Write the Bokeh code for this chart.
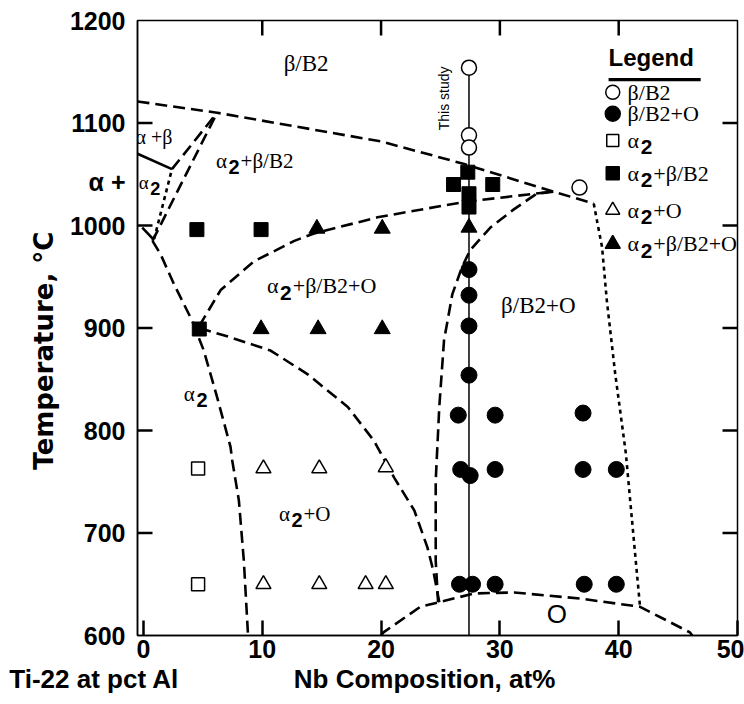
import math
from bokeh.plotting import figure
from bokeh.models import Range1d, FixedTicker, Label, LinearAxis
from bokeh.embed import file_html
from bokeh.resources import INLINE

# ---------------- data ----------------
x_ticks = [0, 10, 20, 30, 40, 50]
y_ticks = [600, 700, 800, 900, 1000, 1100, 1200]

study_x = [27.4, 27.4]
study_y = [600, 1154]

beta_x = [27.4, 27.4, 27.4, 36.7]
beta_y = [1154, 1088, 1076, 1037]

betaO_x = [27.4, 27.4, 27.4, 27.4, 26.5, 29.6, 37.0, 26.7, 27.5, 29.6, 37.0, 39.8,
           26.6, 27.7, 29.6, 37.1, 39.8]
betaO_y = [957, 932, 902, 854, 815, 815, 817, 762, 756, 762, 762, 762,
           650, 650, 650, 650, 650]

a2_x = [4.6, 4.6]
a2_y = [763, 650]

a2beta_x = [4.5, 9.9, 4.7, 27.3, 26.1, 29.4, 27.4, 27.4]
a2beta_y = [996, 996, 899, 1052, 1040, 1040, 1031, 1018]

a2O_x = [10.1, 14.8, 20.4, 10.1, 14.8, 18.7, 20.4]
a2O_y = [763, 763, 764, 650, 650, 650, 650]

a2betaO_x = [14.6, 20.1, 27.4, 9.9, 14.7, 20.1]
a2betaO_y = [997, 997, 998, 899, 899, 899]

# phase boundaries
transus_x = [-0.5, 6.2, 20.0, 27.0, 34.5, 37.9]
transus_y = [1121, 1110, 1082, 1060, 1033, 1021.5]

upperO_x = [4.7, 6.5, 9.3, 12.7, 14.3, 19.7, 27.0, 32.9, 34.5]
upperO_y = [902, 937, 965, 985, 992, 1008, 1023, 1031, 1033]

a2Ob_x = [4.7, 7.3, 10.7, 13.8, 17.2, 19.4, 21.1, 22.8, 23.9, 24.4, 24.9]
a2Ob_y = [900, 891, 878, 855, 823, 790, 754, 722, 686, 663, 632.5]

bOleft_x = [34.5, 33.1, 31.2, 29.2, 27.5, 26.8, 26.0, 25.3, 24.9, 24.6, 24.6, 24.8]
bOleft_y = [1033, 1031, 1016, 998, 976, 959, 933, 888, 823, 751, 673, 632.5]

bOright_x = [37.9, 38.2, 38.6, 39.0, 39.7, 40.6, 41.3, 41.8]
bOright_y = [1021.5, 1003, 979, 927, 856, 778, 690, 627.6]

a2b_x = [0.76, 1.44, 2.56, 4.10, 5.08, 6.21, 7.33, 7.47, 8.03, 8.45, 8.78, 8.80]
a2b_y = [985, 972, 943, 907, 878, 832, 784, 771, 732, 673, 605, 600]

leftC_x = [0.76, 6.2]
leftC_y = [985, 1110]
upperA_x = [2.4, 6.2]
upperA_y = [1055, 1110]
dotB_x = [0.9, 2.4]
dotB_y = [987, 1055]
solidD_x = [-0.5, 2.4]
solidD_y = [1070, 1055]
solidE_x = [-0.1, 0.8]
solidE_y = [998, 987]

dome_x = [20.0, 20.2, 23.3, 24.9, 27.8, 31.2, 36.8, 41.8, 46.0, 46.2]
dome_y = [600, 603, 628, 632.5, 641, 642, 636, 628, 603, 600]

X0, X1, Y0, Y1 = -0.5, 50, 600, 1200

# ---------------- figure ----------------
p = figure(width=744, height=704, x_range=Range1d(X0, X1), y_range=Range1d(Y0, Y1),
           output_backend="svg", toolbar_location=None,
           min_border_left=137, min_border_right=7, min_border_top=20, min_border_bottom=69)
p.background_fill_color = "white"
p.border_fill_color = "white"
p.xgrid.visible = False
p.ygrid.visible = False
p.outline_line_color = "black"
p.outline_line_width = 1.5

SANS = "Liberation Sans"
SERIF = "Liberation Serif"
FS = "25px"
NBSP = "\u00a0"

for ax in (p.xaxis[0], p.yaxis[0]):
    ax.major_tick_out = 0
    ax.minor_tick_line_color = None
    ax.major_tick_line_width = 2.5
    ax.axis_line_width = 1.5
    ax.major_label_text_font = SANS
    ax.major_label_text_font_style = "bold"
    ax.major_label_text_font_size = FS
    ax.major_label_text_color = "black"

# x axis: numbers only
p.xaxis[0].ticker = FixedTicker(ticks=x_ticks)
p.xaxis[0].major_tick_in = 15
p.xaxis[0].major_label_standoff = 4

# y axis: numbers plus the "α +" note that sits left of the frame
ALPHA_NOTE_Y = 1042
p.yaxis[0].ticker = FixedTicker(ticks=y_ticks + [ALPHA_NOTE_Y])
p.yaxis[0].major_label_overrides = {ALPHA_NOTE_Y: "α +"}
p.yaxis[0].major_tick_in = 0
p.yaxis[0].major_label_standoff = 12
p.yaxis[0].axis_label = "Temperature, °C" + NBSP * 5
p.yaxis[0].axis_label_standoff = 8
p.yaxis[0].axis_label_text_font = "DejaVu Sans"
p.yaxis[0].axis_label_text_font_style = "bold"
p.yaxis[0].axis_label_text_font_size = "26px"
p.yaxis[0].axis_label_text_color = "black"

# second row under the x axis: "Ti-22 at pct Al" and the axis title
TI_X, NB_X = -0.49, 23.66
title_axis = LinearAxis(ticker=FixedTicker(ticks=[TI_X, NB_X]),
                        major_label_overrides={TI_X: "Ti-22 at pct Al" + NBSP * 12,
                                               NB_X: "Nb Composition, at%"},
                        major_tick_in=0, major_tick_out=0, minor_tick_line_color=None,
                        axis_line_color=None, major_label_standoff=3,
                        major_label_text_font=SANS, major_label_text_font_style="bold",
                        major_label_text_font_size="26px", major_label_text_color="black")
p.add_layout(title_axis, "below")

# inward ticks on the left, top and right frame edges
TK = 15
top_t = x_ticks[1:-1]
side_t = y_ticks[1:-1]
dy = TK * (Y1 - Y0) / 615.0
dx = TK * (X1 - X0) / 600.0
p.segment(x0=top_t, y0=[Y1] * len(top_t), x1=top_t, y1=[Y1 - dy] * len(top_t),
          line_color="black", line_width=2.5)
p.segment(x0=[X1] * len(side_t), y0=side_t, x1=[X1 - dx] * len(side_t), y1=side_t,
          line_color="black", line_width=2.5)
p.segment(x0=[X0] * len(side_t), y0=side_t, x1=[X0 + dx] * len(side_t), y1=side_t,
          line_color="black", line_width=2.5)

# boundaries
DASH = "12 6"
DOT = "4 4"
for xs, ys, dash in [(transus_x, transus_y, DASH), (upperO_x, upperO_y, DASH),
                     (a2Ob_x, a2Ob_y, DASH), (bOleft_x, bOleft_y, DASH),
                     (bOright_x, bOright_y, DOT), (a2b_x, a2b_y, DASH),
                     (leftC_x, leftC_y, DASH), (upperA_x, upperA_y, DASH),
                     (dotB_x, dotB_y, DOT), (dome_x, dome_y, DASH)]:
    p.line(xs, ys, line_color="black", line_width=2.6, line_dash=dash)
for xs, ys in [(solidD_x, solidD_y), (solidE_x, solidE_y)]:
    p.line(xs, ys, line_color="black", line_width=2.6)

p.line(study_x, study_y, line_color="black", line_width=1.5)

# points
p.scatter(a2beta_x, a2beta_y, marker="square", size=14, fill_color="black", line_color="black")
p.scatter(beta_x, beta_y, marker="circle", size=15, fill_color="white", line_color="black", line_width=1.5)
p.scatter(betaO_x, betaO_y, marker="circle", size=16, fill_color="black", line_color="black")
p.scatter(a2_x, a2_y, marker="square", size=13, fill_color="white", line_color="black", line_width=1.5)
p.scatter(a2O_x, a2O_y, marker="triangle", size=15, fill_color="white", line_color="black", line_width=1.5)
p.scatter(a2betaO_x, a2betaO_y, marker="triangle", size=16, fill_color="black", line_color="black")

# ---------------- text ----------------
WID = {"α": 0.55, "β": 0.52, "/": 0.28, "B": 0.667, "2": 0.5, "+": 0.564, "O": 0.722, " ": 0.25}


def rich(x, y, s, size=20):
    off = 0.0
    for i, chunk in enumerate(s.split("_")):
        if i > 0:
            sub, chunk = chunk[0], chunk[1:]
            ss = 0.95 * size
            p.add_layout(Label(x=x, y=y, x_offset=off + 1, y_offset=-0.3 * size, text=sub,
                               text_font=SANS, text_font_style="bold", text_font_size=f"{ss:.1f}px",
                               text_baseline="middle", text_color="black"))
            off += 0.556 * ss + 2
        if chunk:
            p.add_layout(Label(x=x, y=y, x_offset=off, text=chunk, text_font=SERIF,
                               text_font_size=f"{size}px", text_baseline="middle", text_color="black"))
            off += sum(WID.get(c, 0.5) for c in chunk) * size


rich(11.8, 1158, "β/B2", 23)
rich(-0.67, 1086, "α +β", 20)
rich(-0.4, 1042, "α_2", 19)
rich(6.1, 1063, "α_2+β/B2", 21)
rich(10.4, 941, "α_2+β/B2+O", 22)
rich(30.1, 922, "β/B2+O", 23)
rich(3.4, 836, "α_2", 21)
rich(11.4, 719, "α_2+O", 21)
p.add_layout(Label(x=34.8, y=621, text="O", text_font=SANS, text_font_size="26px",
                   text_align="center", text_baseline="middle", text_color="black"))
p.add_layout(Label(x=25.3, y=1124, text="This study", text_font=SANS, text_font_size="14px",
                   angle=math.pi / 2, text_align="center", text_baseline="middle",
                   text_color="black"))

# legend (custom)
leg_labels = ["β/B2", "β/B2+O", "α_2", "α_2+β/B2", "α_2+O", "α_2+β/B2+O"]
leg_rows = [1130, 1109, 1083, 1051, 1015, 982]
leg_styles = [("circle", 14, "white"), ("circle", 15, "black"), ("square", 12, "white"),
              ("square", 13, "black"), ("triangle", 14, "white"), ("triangle", 15, "black")]
LX_M, LX_T = 39.5, 40.75
for lab, yy, (mk, sz, fc) in zip(leg_labels, leg_rows, leg_styles):
    p.scatter([LX_M], [yy], marker=mk, size=sz, fill_color=fc, line_color="black", line_width=1.5)
    rich(LX_T, yy, lab, 22)
p.add_layout(Label(x=39.15, y=1164, text="Legend", text_font=SANS, text_font_style="bold",
                   text_font_size="24px", text_baseline="alphabetic", text_color="black"))
p.line([39.15, 46.9], [1142.4, 1142.4], line_color="black", line_width=3.3)

open("out.html", "w").write(file_html(p, INLINE))
